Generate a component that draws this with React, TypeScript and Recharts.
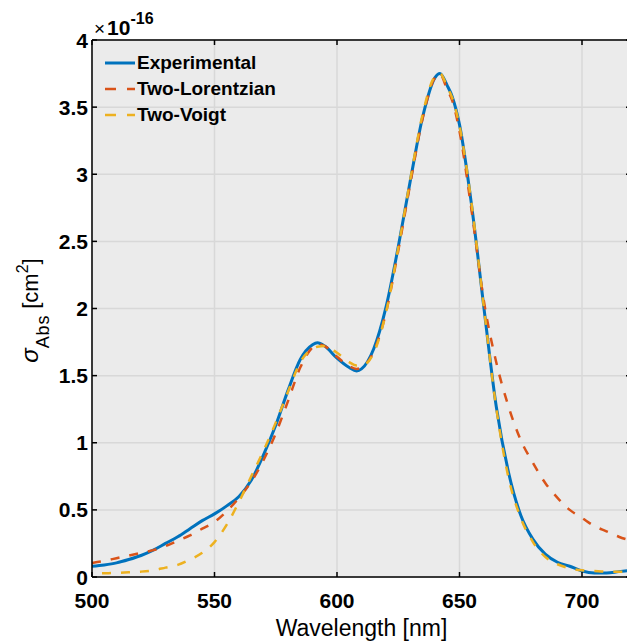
import { LineChart, Line, XAxis, YAxis, CartesianGrid, Legend } from 'recharts';

// wavelength in nm, cross sections in units of 1e-16 cm^2
const wavelength = [
  500, 505, 510, 515, 520, 525, 530, 535, 540, 545, 550, 555, 560, 565, 570, 575, 580, 585, 590, 592,
  595, 600, 605, 608, 610, 615, 620, 625, 630, 635, 640, 642, 645, 647, 650, 655, 660, 665, 670, 675, 680,
  685, 690, 695, 700, 705, 710, 715, 720,
];

const experimental = [
  0.08, 0.09, 0.105, 0.13, 0.16, 0.2, 0.25, 0.3, 0.36, 0.42, 0.47, 0.53, 0.6, 0.72, 0.91, 1.13, 1.39, 1.62, 1.73, 1.745,
  1.72, 1.63, 1.56, 1.535, 1.55, 1.7, 2.01, 2.46, 2.96, 3.43, 3.72, 3.75, 3.66, 3.58, 3.37, 2.76, 2.0, 1.27, 0.78, 0.46, 0.28,
  0.17, 0.11, 0.08, 0.045, 0.03, 0.03, 0.04, 0.05,
];

const twoLorentzian = [
  0.105, 0.12, 0.14, 0.16, 0.18, 0.2, 0.23, 0.27, 0.31, 0.36, 0.41, 0.49, 0.59, 0.71, 0.87, 1.07, 1.31, 1.56, 1.71, 1.735,
  1.72, 1.64, 1.57, 1.55, 1.56, 1.68, 1.97, 2.43, 2.94, 3.42, 3.72, 3.745, 3.63, 3.55, 3.32, 2.72, 2.05, 1.6, 1.27, 1.02, 0.85,
  0.7, 0.59, 0.5, 0.44, 0.38, 0.34, 0.3, 0.27,
];

const twoVoigt = [
  0.025, 0.028, 0.03, 0.035, 0.04, 0.05, 0.07, 0.09, 0.13, 0.18, 0.26, 0.39, 0.56, 0.75, 0.94, 1.15, 1.38, 1.6, 1.7, 1.715,
  1.72, 1.67, 1.6, 1.575, 1.575, 1.67, 1.97, 2.45, 2.97, 3.45, 3.73, 3.75, 3.65, 3.57, 3.36, 2.77, 2.0, 1.26, 0.74, 0.44, 0.26,
  0.15, 0.095, 0.065, 0.05, 0.045, 0.04, 0.04, 0.04,
];

const xTicks = [500, 550, 600, 650, 700];
const yTicks = [0, 0.5, 1, 1.5, 2, 2.5, 3, 3.5, 4];

const series = [
  { key: 'experimental', name: 'Experimental', color: '#0072BD', width: 3, dash: undefined, offset: 0 },
  { key: 'lorentzian', name: 'Two-Lorentzian', color: '#D95319', width: 2.5, dash: '9 10', offset: 0 },
  { key: 'voigt', name: 'Two-Voigt', color: '#EDB120', width: 2.5, dash: '9 10', offset: 9 },
];

const FONT = '"Liberation Sans", Arial, Helvetica, sans-serif';
const INK = '#000';

const data = wavelength.map((w, i) => ({
  wavelength: w,
  experimental: experimental[i],
  lorentzian: twoLorentzian[i],
  voigt: twoVoigt[i],
}));

// MATLAB style ticks: marks point into the plot
function BottomTick({ x, y, payload }: any) {
  return (
    <g>
      <line x1={x} y1={y} x2={x} y2={y - 5} stroke={INK} strokeWidth={1.5} />
      <text x={x} y={y + 31} textAnchor="middle" fontFamily={FONT} fontWeight="bold" fontSize={21} fill={INK}>
        {payload.value}
      </text>
    </g>
  );
}

function TopTick({ x, y }: any) {
  return <line x1={x} y1={y} x2={x} y2={y + 5} stroke={INK} strokeWidth={1.5} />;
}

function LeftTick({ x, y, payload }: any) {
  return (
    <g>
      <line x1={x} y1={y} x2={x + 5} y2={y} stroke={INK} strokeWidth={1.5} />
      <text x={x - 4} y={y + 7.5} textAnchor="end" fontFamily={FONT} fontWeight="bold" fontSize={21} fill={INK}>
        {payload.value}
      </text>
    </g>
  );
}

function RightTick({ x, y }: any) {
  return <line x1={x} y1={y} x2={x - 5} y2={y} stroke={INK} strokeWidth={1.5} />;
}

function YTitle({ viewBox }: any) {
  const axisX = viewBox.x + viewBox.width;
  const cx = axisX - 54;
  const cy = viewBox.y + viewBox.height / 2 + 2;
  return (
    <g>
      <text
        x={cx}
        y={cy}
        transform={`rotate(-90 ${cx} ${cy})`}
        textAnchor="middle"
        fontFamily={FONT}
        fontSize={22}
        fill={INK}
      >
        <tspan fontStyle="italic" fontSize={24}>σ</tspan>
        <tspan dy={11} fontSize={18} letterSpacing={0.8}>Abs</tspan>
        <tspan dy={-11} dx={6}>[cm</tspan>
        <tspan dy={-10} fontSize={16}>2</tspan>
        <tspan dy={10}>]</tspan>
      </text>
      {/* exponent of the y axis */}
      <text x={axisX + 2} y={viewBox.y - 5} fontFamily={FONT} fill={INK}>
        <tspan fontSize={19}>×</tspan>
        <tspan fontSize={21} fontWeight="bold" dx={2}>10</tspan>
        <tspan dy={-11} fontSize={16} fontWeight="bold">-16</tspan>
      </text>
    </g>
  );
}

function XTitle({ viewBox }: any) {
  return (
    <text
      x={viewBox.x + viewBox.width / 2}
      y={viewBox.y + 59}
      textAnchor="middle"
      fontFamily={FONT}
      fontSize={23}
      fill={INK}
    >
      Wavelength [nm]
    </text>
  );
}

function LegendBox() {
  return (
    <div style={{ fontFamily: FONT, fontWeight: 'bold', fontSize: 19, color: INK, lineHeight: '26px' }}>
      {series.map((s) => (
        <div key={s.key} style={{ display: 'flex', alignItems: 'center', height: 26 }}>
          <svg width={32} height={6} style={{ marginRight: 1 }}>
            <line
              x1={1}
              y1={3}
              x2={31}
              y2={3}
              stroke={s.color}
              strokeWidth={s.width}
              strokeDasharray={s.dash ? '11 11' : undefined}
            />
          </svg>
          <span>{s.name}</span>
        </div>
      ))}
    </div>
  );
}

export default function App() {
  return (
    <div
      style={{
        position: 'absolute',
        left: 0,
        top: 0,
        width: 627,
        height: 643,
        overflow: 'hidden',
        background: '#fff',
      }}
    >
      <LineChart width={632} height={643} data={data} margin={{ top: 30, right: 0, bottom: 36, left: 52 }}>
        <CartesianGrid fill="#EBEBEB" stroke="#D8D8D8" strokeWidth={1.5} />
        <XAxis
          dataKey="wavelength"
          type="number"
          domain={[500, 720]}
          ticks={xTicks}
          interval={0}
          allowDataOverflow
          height={30}
          tickSize={0}
          tickMargin={0}
          tick={BottomTick}
          axisLine={{ stroke: INK, strokeWidth: 1.5 }}
          tickLine={false}
          label={<XTitle />}
        />
        <XAxis
          xAxisId="top"
          orientation="top"
          dataKey="wavelength"
          type="number"
          domain={[500, 720]}
          ticks={xTicks}
          interval={0}
          allowDataOverflow
          height={10}
          tickSize={0}
          tickMargin={0}
          tick={TopTick}
          axisLine={{ stroke: INK, strokeWidth: 1.5 }}
          tickLine={false}
        />
        <YAxis
          type="number"
          domain={[0, 4]}
          ticks={yTicks}
          interval={0}
          allowDataOverflow
          width={40}
          tickSize={0}
          tickMargin={0}
          tick={LeftTick}
          axisLine={{ stroke: INK, strokeWidth: 1.5 }}
          tickLine={false}
          label={<YTitle />}
        />
        <YAxis
          yAxisId="right"
          orientation="right"
          type="number"
          domain={[0, 4]}
          ticks={yTicks}
          interval={0}
          allowDataOverflow
          width={1}
          tickSize={0}
          tickMargin={0}
          tick={RightTick}
          axisLine={{ stroke: INK, strokeWidth: 1.5 }}
          tickLine={false}
        />
        <Legend
          layout="horizontal"
          verticalAlign="middle"
          align="center"
          content={<LegendBox />}
          wrapperStyle={{ position: 'absolute', left: 104, top: 50, width: 200, height: 80 }}
        />
        {series.map((s) => (
          <Line
            key={s.key}
            dataKey={s.key}
            name={s.name}
            type="monotone"
            stroke={s.color}
            strokeWidth={s.width}
            strokeDasharray={s.dash}
            strokeDashoffset={s.offset}
            dot={false}
            activeDot={false}
            isAnimationActive={false}
          />
        ))}
      </LineChart>
    </div>
  );
}
